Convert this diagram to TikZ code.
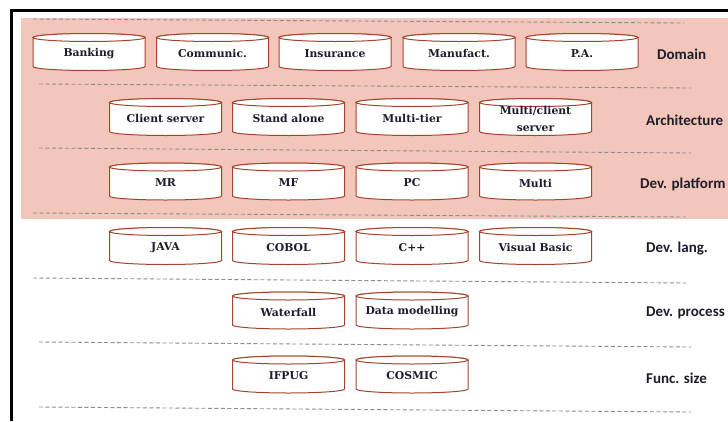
\documentclass[tikz,border=0pt]{standalone}
\usepackage{fontspec}
\newfontfamily\cylfont{DejaVu Serif}
\newfontfamily\lblfont{Carlito}
\definecolor{band}{RGB}{243,198,187}
\definecolor{cylstroke}{RGB}{165,68,45}
\definecolor{ink}{RGB}{28,28,42}
\definecolor{rule}{RGB}{140,140,140}

\tikzset{
  cylbody/.style={fill=white, draw=cylstroke, line width=1pt},
  cyltext/.style={font=\cylfont\bfseries\fontsize{10.8}{17}\selectfont, text=ink, inner sep=0pt, align=center},
  layerlabel/.style={font=\lblfont\bfseries\fontsize{15}{18}\selectfont, text=ink, anchor=west, inner sep=0pt},
  sepline/.style={draw=rule, line width=0.9pt, dash pattern=on 4pt off 2.5pt},
}

% database cylinder: name, centre x, centre y, text
\newcommand\dbcyl[4]{%
  \begin{scope}[shift={(#2,#3)}]
    \path[cylbody] (-56,14.5) -- (-56,-14.5)
      arc[start angle=180,end angle=360,x radius=56,y radius=4]
      -- (56,14.5)
      arc[start angle=0,end angle=180,x radius=56,y radius=4] -- cycle;
    \draw[cylbody] (0,14.5) ellipse[x radius=56,y radius=4];
  \end{scope}
  \node[cyltext] (#1) at (#2,#3-1.5) {#4};
}

\begin{document}
\begin{tikzpicture}[x=1pt,y=1pt]
  \useasboundingbox (0,0) rectangle (728,-421);
  \fill[white] (0,0) rectangle (728,-421);

  % shaded upper layers
  \fill[band] (21,-18) rectangle (728,-219);

  % outer frame
  \draw[black, line width=2.5pt] (11.3,-421) -- (11.3,-10.5) -- (728,-10.5);

  % layer separators
  \draw[sepline] (33,-19)  -- (684,-23);
  \draw[sepline] (39,-84)  -- (691,-88);
  \draw[sepline] (39,-148) -- (691,-153);
  \draw[sepline] (33,-213) -- (686,-217);
  \draw[sepline] (33,-278) -- (686,-283);
  \draw[sepline] (39,-342) -- (691,-347);
  \draw[sepline] (39,-407) -- (691,-412);

  % Domain
  \dbcyl{bank}{89}{-52}{Banking}
  \dbcyl{comm}{212.5}{-52}{Communic.}
  \dbcyl{insu}{335}{-52}{Insurance}
  \dbcyl{manu}{459}{-52}{Manufact.}
  \dbcyl{pa}{582}{-52}{P.A.}

  % Architecture
  \dbcyl{clsrv}{165.5}{-117}{Client server}
  \dbcyl{stand}{288.5}{-117}{Stand alone}
  \dbcyl{mtier}{412}{-117}{Multi-tier}
  \dbcyl{mclient}{535.5}{-117}{Multi/client\\server}

  % Development platform
  \dbcyl{mr}{165.5}{-181.5}{MR}
  \dbcyl{mf}{288.5}{-181.5}{MF}
  \dbcyl{pc}{412}{-181.5}{PC}
  \dbcyl{multi}{535.5}{-181.5}{Multi}

  % Development language
  \dbcyl{java}{165.5}{-246}{JAVA}
  \dbcyl{cobol}{288.5}{-246}{COBOL}
  \dbcyl{cpp}{412}{-246}{C++}
  \dbcyl{vb}{535.5}{-246}{Visual Basic}

  % Development process
  \dbcyl{water}{288.5}{-310.5}{Waterfall}
  \dbcyl{datam}{412}{-310.5}{Data modelling}

  % Functional size
  \dbcyl{ifpug}{288.5}{-374.5}{IFPUG}
  \dbcyl{cosmic}{412}{-374.5}{COSMIC}

  % layer labels
  \node[layerlabel] (lDomain)   at (657,-54)  {Domain};
  \node[layerlabel] (lArch)     at (646,-120) {Architecture};
  \node[layerlabel] (lPlatform) at (640,-184) {Dev. platform};
  \node[layerlabel] (lLang)     at (646,-249) {Dev. lang.};
  \node[layerlabel] (lProcess)  at (646,-313) {Dev. process};
  \node[layerlabel] (lSize)     at (646,-378) {Func. size};
\end{tikzpicture}
\end{document}
